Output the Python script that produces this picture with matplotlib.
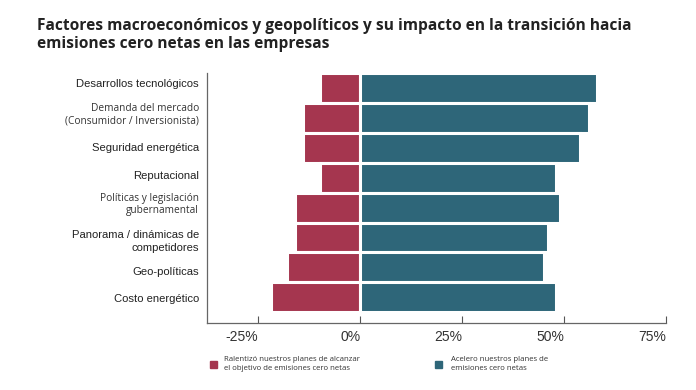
import matplotlib
matplotlib.use("Agg")
import matplotlib.pyplot as plt
import matplotlib.transforms as mtransforms
from matplotlib.patches import Rectangle

categories = [
    "Desarrollos tecnológicos",
    "Demanda del mercado\n(Consumidor / Inversionista)",
    "Seguridad energética",
    "Reputacional",
    "Políticas y legislación\ngubernamental",
    "Panorama / dinámicas de\ncompetidores",
    "Geo-políticas",
    "Costo energético",
]
slowed = [-10, -14, -14, -10, -16, -16, -18, -22]
accelerated = [58, 56, 54, 48, 49, 46, 45, 48]
xticks = [-25, 0, 25, 50, 75]
xtick_labels = ["-25%", "0%", "25%", "50%", "75%"]
legend_labels = [
    "Ralentizó nuestros planes de alcanzar\nel objetivo de emisiones cero netas",
    "Acelero nuestros planes de\nemisiones cero netas",
]
title = ("Factores macroeconómicos y geopolíticos y su impacto en la transición hacia\n"
         "emisiones cero netas en las empresas")

RED = "#A5364F"
BLUE = "#2E6679"
small_font_cats = {1, 4}
label_shift_px = [5.3, 5.4, 1.3, 2.6, 5.5, -1.6, -3.2, -0.4]

fig = plt.figure(figsize=(6.96, 3.9), dpi=100)
ax = fig.add_axes([0.298, 0.1726, 0.659, 0.641])

y = list(range(len(categories)))
ax.barh(y, slowed, height=1.0, color=RED, edgecolor="white", linewidth=2.2)
ax.barh(y, accelerated, height=1.0, color=BLUE, edgecolor="white", linewidth=2.2)

ax.set_xlim(-37.5, 75)
ax.set_ylim(7.85, -0.52)
ax.set_xticks(xticks)
ax.set_xticklabels(xtick_labels, fontsize=10, color="#333333", family="Liberation Sans")
for lab in ax.get_xticklabels():
    lab.set_ha("right")
ax.tick_params(axis="x", direction="in", length=5, width=0.8, color="#555555", pad=5)
ax.set_yticks(y)
ax.set_yticklabels(categories)
ax.tick_params(axis="y", length=0, pad=6)
for i, lab in enumerate(ax.get_yticklabels()):
    lab.set_ha("right")
    lab.set_multialignment("right")
    if i in small_font_cats:
        lab.set_family("Open Sans")
        lab.set_fontsize(7.3)
        lab.set_color("#333333")
    else:
        lab.set_family("Liberation Sans")
        lab.set_fontsize(8.1)
        lab.set_color("#222222")
        lab.set_linespacing(1.3)
    shift = mtransforms.ScaledTranslation(0, label_shift_px[i] / 100, fig.dpi_scale_trans)
    lab.set_transform(lab.get_transform() + shift)

for s in ["top", "right"]:
    ax.spines[s].set_visible(False)
for s in ["left", "bottom"]:
    ax.spines[s].set_color("#666666")
    ax.spines[s].set_linewidth(0.9)

fig.text(37 / 696, 1 - 35 / 390, title, fontsize=11.2, fontweight="bold",
         family="Open Sans", color="#222222", ha="left", va="center", linespacing=1.1)

# legend
for (xsq, xtxt, col, lab) in [(210, 224, RED, legend_labels[0]), (435, 451, BLUE, legend_labels[1])]:
    fig.patches.append(Rectangle((xsq / 696, 1 - 367.5 / 390), 7 / 696, 7 / 390,
                                 transform=fig.transFigure, color=col))
    fig.text(xtxt / 696, 1 - 364 / 390, lab, fontsize=5.6, family="Open Sans",
             color="#333333", ha="left", va="center", linespacing=1.25)

fig.savefig("out.png", dpi=100)
